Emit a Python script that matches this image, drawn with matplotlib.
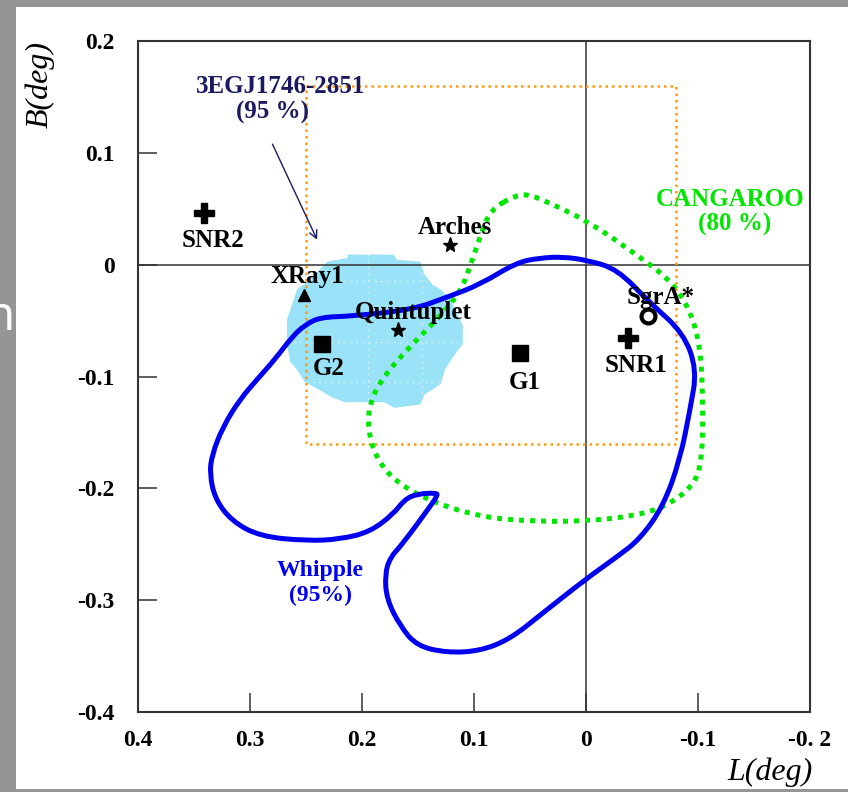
import matplotlib
matplotlib.use("Agg")
import matplotlib.pyplot as plt
from matplotlib.patches import Polygon, Rectangle, PathPatch
from matplotlib.path import Path
import numpy as np

# ---------------- data ----------------
whipple_L = [0.2375, 0.208, 0.154, 0.124, 0.095, 0.062, 0.041, 0.0205, -0.001, -0.028,
             -0.057, -0.087, -0.099, -0.093, -0.084, -0.069, -0.048, -0.028, 0.0, 0.038,
             0.068, 0.095, 0.124, 0.151, 0.166, 0.178, 0.1795, 0.175, 0.164, 0.139,
             0.133, 0.133, 0.151, 0.162, 0.172, 0.193, 0.2196, 0.249, 0.291, 0.316,
             0.331, 0.336, 0.334, 0.324, 0.309, 0.294, 0.278, 0.262, 0.251]
whipple_B = [-0.047, -0.046, -0.040, -0.029, -0.018, 0.002, 0.006, 0.007, 0.004, -0.004,
             -0.034, -0.061, -0.094, -0.129, -0.174, -0.216, -0.2455, -0.261, -0.281, -0.311,
             -0.335, -0.3455, -0.347, -0.341, -0.323, -0.299, -0.277, -0.262, -0.250, -0.216,
             -0.207, -0.204, -0.205, -0.210, -0.223, -0.239, -0.2455, -0.247, -0.243, -0.2295,
             -0.210, -0.1875, -0.170, -0.1446, -0.1205, -0.103, -0.085, -0.064, -0.054]

cang_L = [0.062, 0.050, 0.032, -0.004, -0.042, -0.072, -0.090, -0.102, -0.1045, -0.1036,
          -0.0955, -0.072, -0.042, 0.003, 0.047, 0.092, 0.137, 0.169, 0.187, 0.195,
          0.193, 0.181, 0.157, 0.133, 0.1125, 0.1036, 0.0946, 0.0857]
cang_B = [0.0625, 0.0625, 0.055, 0.0375, 0.011, -0.011, -0.034, -0.070, -0.123, -0.177,
          -0.198, -0.216, -0.225, -0.2295, -0.2295, -0.226, -0.2125, -0.195, -0.174, -0.147,
          -0.123, -0.100, -0.073, -0.049, -0.025, -0.002, 0.025, 0.049]

egret_L = [0.213, 0.172, 0.169, 0.148, 0.144, 0.137, 0.130, 0.121, 0.117, 0.110,
           0.110, 0.117, 0.126, 0.130, 0.144, 0.148, 0.171, 0.180, 0.215, 0.226,
           0.238, 0.251, 0.258, 0.264, 0.267, 0.267, 0.2625, 0.258, 0.246, 0.238,
           0.231, 0.213]
egret_B = [0.009, 0.009, 0.0045, 0.0027, -0.009, -0.018, -0.022, -0.031, -0.040, -0.054,
           -0.071, -0.080, -0.094, -0.107, -0.116, -0.125, -0.128, -0.123, -0.123, -0.119,
           -0.112, -0.105, -0.094, -0.087, -0.071, -0.049, -0.036, -0.022, -0.0134, -0.0045,
           0.0027, 0.006]

box_L = [0.25, -0.08]
box_B = [-0.16, 0.16]

src_names = ["SNR2", "SNR1", "XRay1", "G2", "G1", "Quintuplet", "Arches", "SgrA*"]
src_L = [0.341, -0.0375, 0.252, 0.236, 0.059, 0.168, 0.121, -0.055]
src_B = [0.046, -0.066, -0.027, -0.071, -0.079, -0.058, 0.018, -0.046]
src_marker = ["P", "P", "^", "s", "s", "*", "*", "o"]
lab_L = [0.333, -0.045, 0.249, 0.230, 0.055, 0.154, 0.117, -0.067]
lab_B = [0.022, -0.090, -0.011, -0.093, -0.105, -0.043, 0.033, -0.029]

x_ticks = [0.4, 0.3, 0.2, 0.1, 0.0, -0.1, -0.2]
x_ticklabels = ["0.4", "0.3", "0.2", "0.1", "0", "-0.1", "-0. 2"]
y_ticks = [0.2, 0.1, 0.0, -0.1, -0.2, -0.3, -0.4]
y_ticklabels = ["0.2", "0.1", "0", "-0.1", "-0.2", "-0.3", "-0.4"]


def smooth_closed_path(xs, ys):
    """Closed quadratic-Bezier path using the read points as control points."""
    pts = np.column_stack([xs, ys])
    n = len(pts)
    mids = (pts + np.roll(pts, -1, axis=0)) / 2.0
    verts = [mids[-1]]
    codes = [Path.MOVETO]
    for i in range(n):
        verts += [pts[i], mids[i]]
        codes += [Path.CURVE3, Path.CURVE3]
    return Path(verts, codes)


# ---------------- figure ----------------
serif = "Liberation Serif"
fig = plt.figure(figsize=(8.48, 7.92), dpi=100)
fig.patch.set_facecolor("#959595")
fig.patches.append(Rectangle((16 / 848, 3 / 792), 832 / 848, 782 / 792,
                             transform=fig.transFigure, facecolor="white",
                             edgecolor="none", zorder=-10))
fig.text(15 / 848, 1 - 318 / 792, "n", color="white", fontsize=34,
         family="Noto Sans", ha="right", va="center")

ax = fig.add_axes([138 / 848, 80 / 792, 672 / 848, 671 / 792])
ax.set_zorder(5)
ax.set_xlim(0.4, -0.2)
ax.set_ylim(-0.4, 0.2)
ax.set_facecolor("white")

for s in ax.spines.values():
    s.set_linewidth(1.5)
    s.set_color("#333333")

ax.set_xticks(x_ticks)
ax.set_xticklabels(x_ticklabels)
ax.set_yticks(y_ticks)
ax.set_yticklabels(y_ticklabels)
ax.tick_params(direction="in", length=14, width=1.1, color="#333333",
               labelsize=17)
ax.tick_params(axis="x", pad=13)
ax.tick_params(axis="y", pad=17)
for lab in ax.get_xticklabels() + ax.get_yticklabels():
    lab.set_family(serif)
    lab.set_fontweight("bold")

# crosshair
ax.axvline(0, color="#333333", lw=1.1, zorder=2)
ax.axhline(0, color="#333333", lw=1.1, zorder=2)

# EGRET blob
blob = Polygon(np.column_stack([egret_L, egret_B]), closed=True,
               facecolor="#99e2f7", edgecolor="none", zorder=1)
ax.add_patch(blob)
for yy in [-0.015, -0.069, -0.105]:
    ln, = ax.plot([0.3, 0.08], [yy, yy], color="white", lw=0.9,
                  linestyle=(0, (1, 4)), alpha=0.8, zorder=1.1)
    ln.set_clip_path(blob)
for xx in [0.195, 0.146]:
    ln, = ax.plot([xx, xx], [0.02, -0.14], color="white", lw=0.9,
                  linestyle=(0, (1, 4)), alpha=0.8, zorder=1.1)
    ln.set_clip_path(blob)

# orange box
bx = [box_L[0], box_L[1], box_L[1], box_L[0], box_L[0]]
by = [box_B[1], box_B[1], box_B[0], box_B[0], box_B[1]]
ax.plot(bx, by, color="#ff9a10", lw=1.8, linestyle=(0, (1, 1.6)), zorder=3)

# CANGAROO
ax.add_patch(PathPatch(smooth_closed_path(cang_L, cang_B), facecolor="none",
                       edgecolor="#00e600", lw=3.6, linestyle=(0, (1, 1.2)),
                       capstyle="butt", zorder=4))

# Whipple
ax.add_patch(PathPatch(smooth_closed_path(whipple_L, whipple_B), facecolor="none",
                       edgecolor="#0000f0", lw=3.6, joinstyle="round", zorder=5))

# sources
for n, L, B, m, tl, tb in zip(src_names, src_L, src_B, src_marker, lab_L, lab_B):
    if m == "o":
        ax.plot(L, B, marker="o", ms=10, mfc="white", mec="black", mew=3, zorder=7)
    elif m == "P":
        ax.plot(L, B, marker="P", ms=14, color="black", zorder=7)
    elif m == "*":
        ax.plot(L, B, marker="*", ms=11, color="black", zorder=7)
    elif m == "^":
        ax.plot(L, B, marker="^", ms=9, color="black", zorder=7)
    else:
        ax.plot(L, B, marker="s", ms=11, color="black", zorder=7)
    ax.text(tl, tb, n, family=serif, fontweight="bold", fontsize=18,
            ha="center", va="center", zorder=8)

# annotations
navy = "#1a1a60"
ax.text(0.273, 0.159, "3EGJ1746-2851", family=serif, fontweight="bold",
        fontsize=18, color=navy, ha="center", va="center", zorder=8)
ax.text(0.280, 0.136, "(95 %)", family=serif, fontweight="bold",
        fontsize=18, color=navy, ha="center", va="center", zorder=8)
ax.annotate("", xy=(0.239, 0.020), xytext=(0.281, 0.110),
            arrowprops=dict(arrowstyle="->", color=navy, lw=1.0,
                            mutation_scale=14), zorder=8)

green = "#00e600"
ax.text(-0.129, 0.058, "CANGAROO", family=serif, fontweight="bold",
        fontsize=18, color=green, ha="center", va="center", zorder=8)
ax.text(-0.133, 0.036, "(80 %)", family=serif, fontweight="bold",
        fontsize=18, color=green, ha="center", va="center", zorder=8)

blue = "#0000f0"
ax.text(0.2375, -0.2735, "Whipple", family=serif, fontweight="bold",
        fontsize=17, color=blue, ha="center", va="center", zorder=8)
ax.text(0.2375, -0.2955, "(95%)", family=serif, fontweight="bold",
        fontsize=17, color=blue, ha="center", va="center", zorder=8)

# axis labels
fig.text(40 / 848, 1 - 85 / 792, "B(deg)", family=serif, style="italic",
         fontsize=23, rotation=90, ha="center", va="center")
fig.text(770 / 848, 1 - 772 / 792, "L(deg)", family=serif, style="italic",
         fontsize=23, ha="center", va="center")

fig.savefig("out.png", dpi=100, facecolor=fig.get_facecolor())
